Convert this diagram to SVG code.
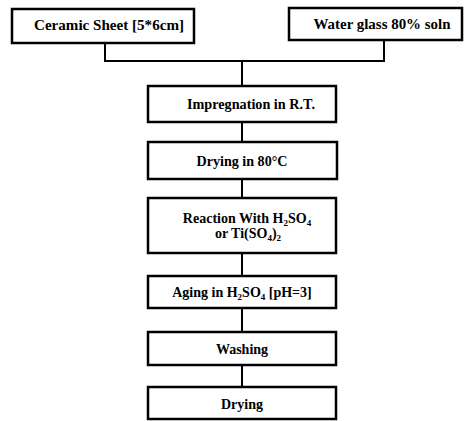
<svg xmlns="http://www.w3.org/2000/svg" width="468" height="421" viewBox="0 0 468 421">
<style>
.box{fill:#fff;stroke:#000;stroke-width:2.5}
.t{font-family:"Liberation Serif","Times New Roman",serif;font-weight:bold;font-size:14px;fill:#000;text-anchor:middle}
.s{font-size:9px}
.c{fill:none;stroke:#000;stroke-width:2}
</style>
<rect width="468" height="421" fill="#fff"/>
<g id="connectors">
<polyline class="c" points="105,43 105,61 384,61 384,40"/>
<line class="c" x1="242" y1="61" x2="242" y2="86"/>
<line class="c" x1="242" y1="122" x2="242" y2="142"/>
<line class="c" x1="242" y1="179" x2="242" y2="198"/>
<line class="c" x1="242" y1="253" x2="242" y2="276"/>
<line class="c" x1="242" y1="308" x2="242" y2="332"/>
<line class="c" x1="242" y1="365" x2="242" y2="387"/>
</g>
<g id="n1"><rect class="box" x="12" y="9" width="182" height="34"/><text class="t" x="109" y="30" textLength="150" lengthAdjust="spacingAndGlyphs">Ceramic Sheet [5*6cm]</text></g>
<g id="n2"><rect class="box" x="289" y="8" width="173" height="32"/><text class="t" x="382" y="29" textLength="137" lengthAdjust="spacingAndGlyphs">Water glass  80% soln</text></g>
<g id="n3"><rect class="box" x="148" y="86" width="188" height="36"/><text class="t" x="251" y="109" textLength="128" lengthAdjust="spacingAndGlyphs">Impregnation in R.T.</text></g>
<g id="n4"><rect class="box" x="148" y="142" width="189" height="37"/><text class="t" x="242" y="166" textLength="91" lengthAdjust="spacingAndGlyphs">Drying in 80°C</text></g>
<g id="n5"><rect class="box" x="148" y="198" width="188" height="55"/>
<text class="t" x="247" y="223">Reaction With H<tspan class="s" dy="3">2</tspan><tspan dy="-3">SO</tspan><tspan class="s" dy="3">4</tspan></text>
<text class="t" x="248" y="238">or Ti(SO<tspan class="s" dy="3">4</tspan><tspan dy="-3">)</tspan><tspan class="s" dy="3">2</tspan></text></g>
<g id="n6"><rect class="box" x="148" y="276" width="188" height="32"/><text class="t" x="242" y="297">Aging in H<tspan class="s" dy="3">2</tspan><tspan dy="-3">SO</tspan><tspan class="s" dy="3">4</tspan><tspan dy="-3"> [pH=3]</tspan></text></g>
<g id="n7"><rect class="box" x="148" y="332" width="188" height="33"/><text class="t" x="242" y="354">Washing</text></g>
<g id="n8"><rect class="box" x="148" y="387" width="188" height="32"/><text class="t" x="242" y="409">Drying</text></g>
</svg>
